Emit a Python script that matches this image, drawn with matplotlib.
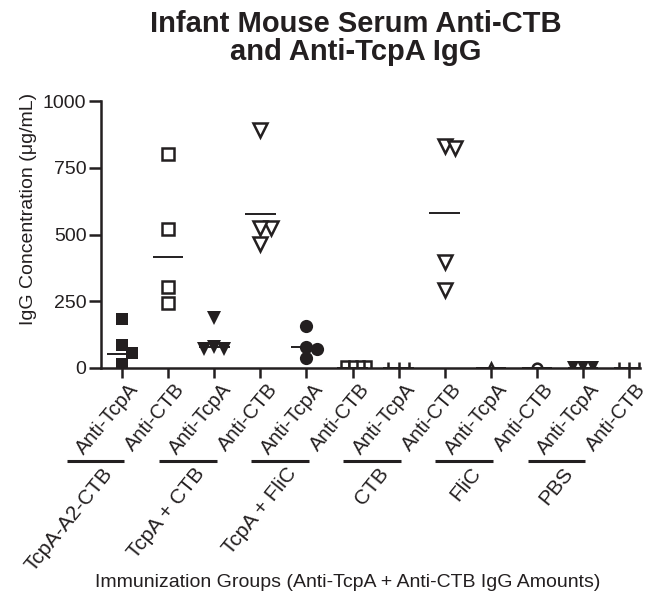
import matplotlib
matplotlib.use("Agg")
import matplotlib.pyplot as plt
import matplotlib.transforms as mtransforms
import numpy as np

plt.rcParams['font.family'] = ['Liberation Sans', 'DejaVu Sans']

INK = '#231f20'

# immunization groups and the two antibodies measured for each
groups = ["TcpA-A2-CTB", "TcpA + CTB", "TcpA + FliC", "CTB", "FliC", "PBS"]
antibodies = ["Anti-TcpA", "Anti-CTB"]

# IgG values (ug/mL), one list per column
a2ctb_tcpa = [183, 86, 56, 15]
a2ctb_ctb = [801, 520, 303, 243]
tcpa_ctb_tcpa = [188, 77, 73, 70]
tcpa_ctb_ctb = [891, 524, 524, 464]
tcpa_flic_tcpa = [157, 77, 72, 37]
tcpa_flic_ctb = [10, 10, 10, 10]
ctb_tcpa = [0, 0, 0]
ctb_ctb = [830, 824, 397, 292]
flic_tcpa = [0]
flic_ctb = [0]
pbs_tcpa = [3, 3, 3]
pbs_ctb = [0, 0, 0]

# horizontal bar per column (group centre line)
center_lines = [54, 416, 79, 577, 79, 0, 0, 580, 0, 0, 0, 0]

columns = [a2ctb_tcpa, a2ctb_ctb, tcpa_ctb_tcpa, tcpa_ctb_ctb,
           tcpa_flic_tcpa, tcpa_flic_ctb, ctb_tcpa, ctb_ctb,
           flic_tcpa, flic_ctb, pbs_tcpa, pbs_ctb]

# marker, filled, size
styles = [('s', True, 9), ('s', False, 8.5), ('v', True, 10), ('v', False, 9.5),
          ('o', True, 9.5), ('s', False, 5.5), ('|', False, 9), ('v', False, 9.5),
          ('^', False, 7), ('o', False, 7), ('v', True, 8), ('|', False, 9)]

W, H = 658, 602
ax_box = [101, 101, 539, 267]  # left, top, width, height in px
xlim = (-0.46, 11.24)
ylim = (0, 1000)

fig = plt.figure(figsize=(W / 100, H / 100), dpi=100)
ax = fig.add_axes([ax_box[0] / W, 1 - (ax_box[1] + ax_box[3]) / H,
                   ax_box[2] / W, ax_box[3] / H])
ax.set_xlim(*xlim)
ax.set_ylim(*ylim)

ux = ax_box[2] / (xlim[1] - xlim[0])   # px per x unit
uy = ax_box[3] / (ylim[1] - ylim[0])   # px per y unit


def swarm(vals, step=0.22, min_px=10):
    # spread overlapping points sideways, like a column scatter plot
    placed = []
    offs = np.zeros(len(vals))
    for idx in np.argsort(vals, kind='stable')[::-1]:
        v = vals[idx]
        for k in [0, 1, -1, 2, -2, 3, -3]:
            dx = k * step
            if all(np.hypot((dx - px) * ux, (v - pv) * uy) >= min_px for px, pv in placed):
                break
        placed.append((dx, v))
        offs[idx] = dx
    return offs


for i, (vals, (m, filled, size)) in enumerate(zip(columns, styles)):
    step = 0.16 if size < 6 else 0.22
    xs = i + swarm(vals, step=step, min_px=7 if size < 6 else 10)
    ax.plot(xs, vals, ls='none', marker=m, ms=size,
            mfc=INK if filled else 'white', mec=INK,
            mew=0 if filled else 1.8, zorder=2)

ax.hlines(center_lines, np.arange(12) - 0.33, np.arange(12) + 0.33,
          color=INK, lw=1.4, zorder=2)

for s in ['top', 'right']:
    ax.spines[s].set_visible(False)
for s in ['left', 'bottom']:
    ax.spines[s].set_linewidth(1.8)
    ax.spines[s].set_color(INK)

ax.set_yticks([0, 250, 500, 750, 1000])
ax.tick_params(axis='y', length=9, width=1.8, labelsize=14, colors=INK, pad=1.5)
ax.tick_params(axis='x', length=7, width=1.8, labelsize=14.5, colors=INK, pad=1.6)

ax.set_xticks(range(12))
ax.set_xticklabels(antibodies * len(groups), rotation=50, ha='right', va='top',
                   rotation_mode='anchor')
shift = mtransforms.ScaledTranslation(0.06, 0, fig.dpi_scale_trans)
for lab in ax.get_xticklabels():
    lab.set_transform(lab.get_transform() + shift)

# group bars + group names under the tick labels
trans = mtransforms.blended_transform_factory(ax.transData, ax.transAxes)
for g, name in enumerate(groups):
    i = 2 * g
    ax.plot([i - 1.2, i + 0.05], [-0.348, -0.348], transform=trans, clip_on=False,
            color=INK, lw=2.2, solid_capstyle='butt')
    ax.text(i - 0.45, -0.36, name, transform=trans, rotation=51, ha='right',
            va='top', rotation_mode='anchor', fontsize=15, color=INK)

ax.set_ylabel("IgG Concentration (μg/mL)", fontsize=14, color=INK)
ax.yaxis.set_label_coords(-0.119, 0.595)

fig.text(0.529, 1 - 587 / H, "Immunization Groups (Anti-TcpA + Anti-CTB IgG Amounts)",
         ha='center', va='baseline', fontsize=14, color=INK)

fig.text(0.54, 1 - 32 / H, "Infant Mouse Serum Anti-CTB", ha='center', va='baseline',
         fontsize=21, fontweight='bold', color=INK)
fig.text(0.54, 1 - 60 / H, "and Anti-TcpA IgG", ha='center', va='baseline',
         fontsize=21, fontweight='bold', color=INK)

fig.savefig("out.png", dpi=100)
